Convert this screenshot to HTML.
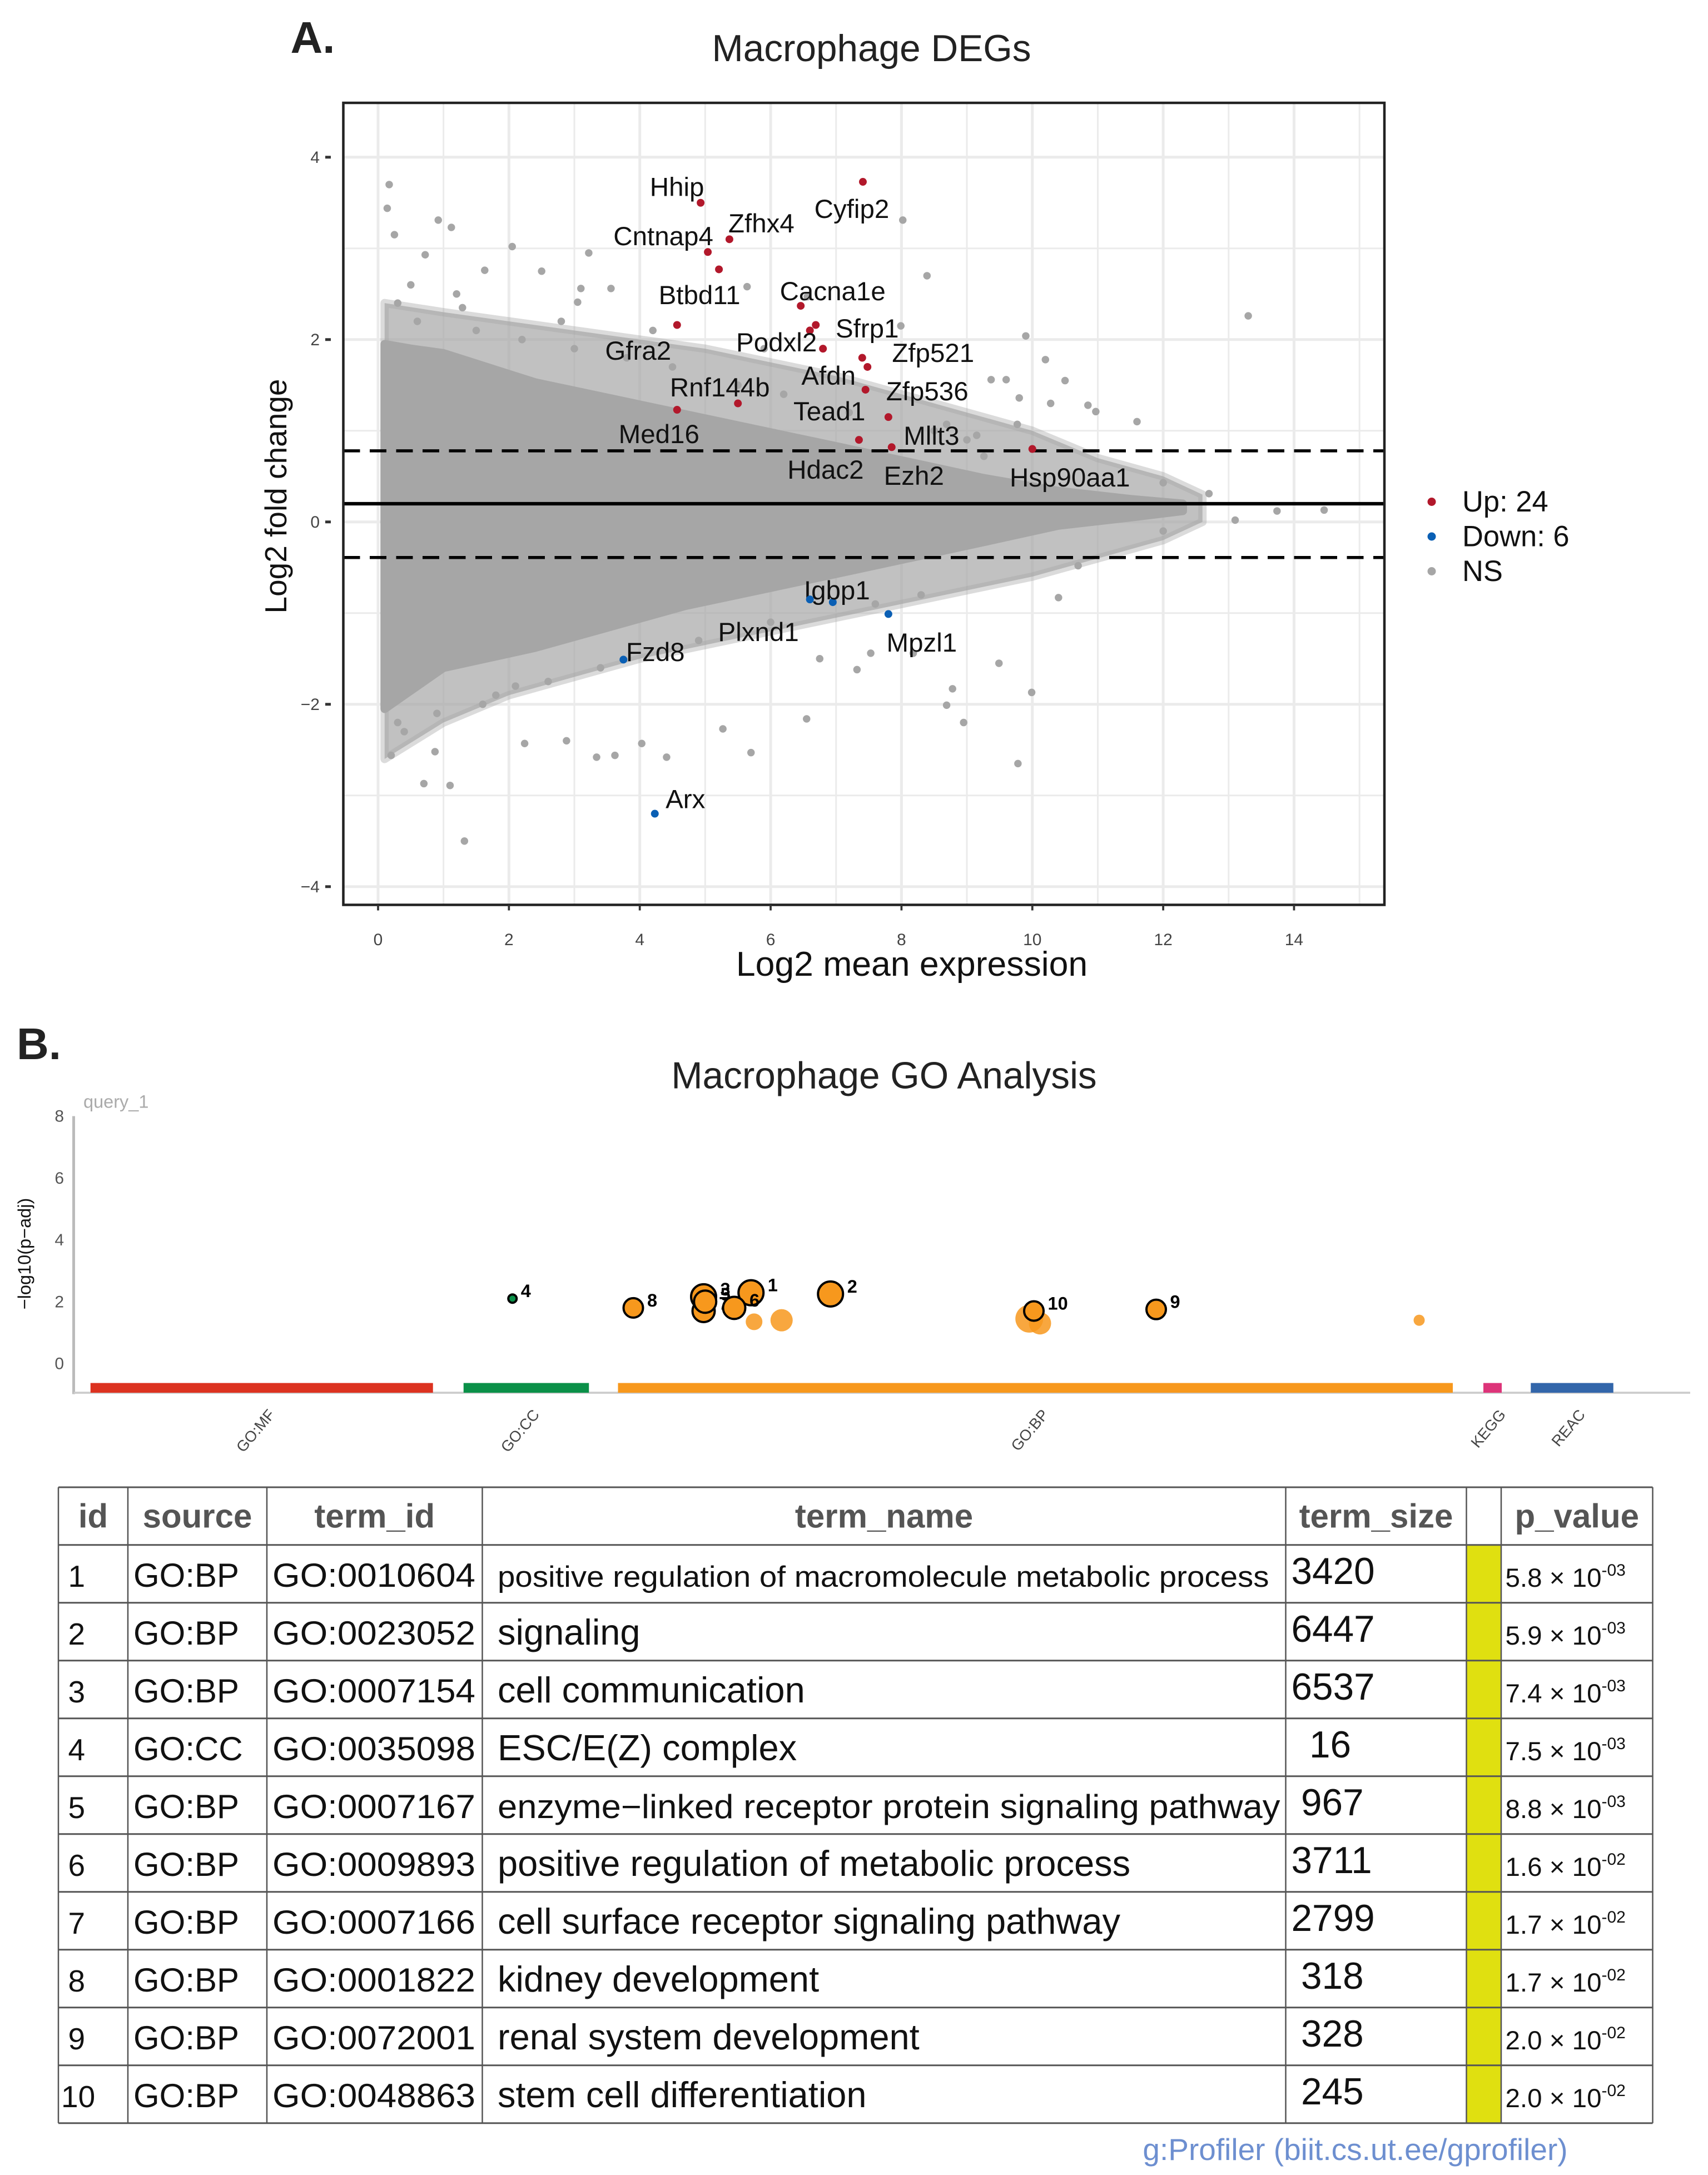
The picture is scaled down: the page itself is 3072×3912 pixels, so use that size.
<!DOCTYPE html>
<html><head><meta charset="utf-8"><style>
html,body{margin:0;padding:0;background:#fff;}
svg{display:block;font-family:"Liberation Sans",Arial,sans-serif;}
</style></head><body>
<svg id="fig" width="3072" height="3912" viewBox="0 0 1228.8 1564.8" xmlns="http://www.w3.org/2000/svg">
<rect x="0" y="0" width="1228.8" height="1564.8" fill="#fff"/>
<text x="209" y="38" font-size="32" font-weight="bold" fill="#222">A.</text>
<text x="627" y="44" font-size="27" text-anchor="middle" fill="#222">Macrophage DEGs</text>
<g id="ma"></g>
<text x="656" y="702" font-size="25" text-anchor="middle" fill="#111">Log2 mean expression</text>
<text transform="translate(206,357) rotate(-90)" font-size="22" text-anchor="middle" fill="#111">Log2 fold change</text>
<g>
<circle cx="1030" cy="361" r="3" fill="#b2182b"/>
<text x="1052" y="368" font-size="21" fill="#111">Up: 24</text>
<circle cx="1030" cy="386" r="3" fill="#0a5fb4"/>
<text x="1052" y="393" font-size="21" fill="#111">Down: 6</text>
<circle cx="1030" cy="411" r="3" fill="#a6a6a6"/>
<text x="1052" y="418" font-size="21" fill="#111">NS</text>
</g>
<text x="12" y="762" font-size="32" font-weight="bold" fill="#222">B.</text>
<text x="636" y="783" font-size="27" text-anchor="middle" fill="#222">Macrophage GO Analysis</text>
<text x="60" y="797" font-size="13" fill="#aaa">query_1</text>
<text transform="translate(22,902) rotate(-90)" font-size="13" text-anchor="middle" fill="#111">−log10(p−adj)</text>
<g id="go"></g>
<g id="tbl"></g>
<text x="975" y="1554" font-size="22" text-anchor="middle" fill="#6d8fd0">g:Profiler (biit.cs.ut.ee/gprofiler)</text>
</svg>
<script>
// ---------- MA plot data ----------
const envX = [0.1, 0.5, 1, 2.4, 4.7, 7, 9.26, 10.4, 11.5, 12.3];
const envUpper = [1.95, 1.9, 1.85, 1.53, 1.18, 0.83, 0.48, 0.34, 0.25, 0.2];
const envLower = [-2.05, -1.85, -1.6, -1.38, -0.92, -0.57, -0.22, -0.04, 0.05, 0.12];
const outX = [0.1, 1, 2, 3, 4, 5, 6, 7, 8, 9, 10, 11, 12, 12.6];
const outUpper = [2.4, 2.3, 2.2, 2.1, 2.0, 1.9, 1.75, 1.6, 1.4, 1.2, 1.0, 0.7, 0.5, 0.3];
const outLower = [-2.6, -2.2, -1.9, -1.7, -1.5, -1.35, -1.2, -1.05, -0.9, -0.75, -0.6, -0.4, -0.2, 0.0];
const nsX = [0.17,0.14,0.92,1.12,0.25,2.05,3.22,8.02,8.39,13.3,9.9,10.2,10.5,10.85,11.6,9.8,12,12.7,13.74,14.46,12,13.1,10.7,10.4,9.99,9.49,8.95,8.69,8.78,9.78,6.55,5.7,4.41,3.62,3.34,2.88,2.24,0.7,1.1,1.32,0.87,0.2,4.03,5.27,7.53,8.18,7.32,6.75,5.64,3.56,3.1,3.05,1.63,2.5,0.72,1.29,7.99,6.56,9.37,9.6,10.28,10.97,8.69,9.15,9.77,9.26,0.3,0.6,1.5,2.2,3.0,3.8,4.5,5.5,6.2,7.2,8.5,9.0,0.4,1.8,2.6,3.4,4.9,6.0,7.6,8.3,0.5,1.2,2.8,4.2,5.9,0.3,0.9,1.6,2.1];
const nsY = [3.7,3.44,3.31,3.23,3.15,3.02,2.95,3.31,2.7,2.26,2.04,1.78,1.55,1.28,1.1,1.36,0.43,0.31,0.12,0.13,-0.1,0.02,-0.48,-0.83,-1.87,-1.55,-2.2,-2.01,-1.83,-2.65,-2.16,-2.53,-2.58,-2.56,-2.58,-2.4,-2.43,-2.87,-2.89,-3.5,-2.52,-2.56,-2.43,-2.27,-1.44,-1.44,-1.62,-1.5,2.58,2.56,2.56,2.41,2.76,2.75,2.93,2.35,2.15,2.47,1.56,1.56,1.3,1.21,1.07,0.95,1.07,0.72,2.4,2.2,2.1,2.0,1.9,1.8,1.7,1.5,1.4,1.2,1.0,0.9,-2.3,-1.9,-1.75,-1.6,-1.3,-1.1,-0.9,-0.8,2.6,2.5,2.2,2.1,1.9,-2.2,-2.1,-2.0,-1.8];
const sigGenes = ["Hhip","Cyfip2","Zfhx4","Cntnap4","Btbd11","Cacna1e","Sfrp1","Gfra2","Podxl2","Afdn","Zfp521","Zfp536","Tead1","Rnf144b","Med16","Mllt3","Hdac2","Ezh2","Hsp90aa1","Igbp1","Plxnd1","Mpzl1","Fzd8","Arx"];
const sigX = [4.93,7.41,5.37,5.04,5.21,6.46,6.69,4.57,6.6,6.8,7.4,7.48,7.45,5.5,4.57,7.8,7.35,7.85,10.0,6.95,6.6,7.8,3.75,4.23];
const sigY = [3.5,3.73,3.1,2.96,2.77,2.37,2.16,2.16,2.1,1.9,1.8,1.7,1.45,1.3,1.23,1.15,0.9,0.82,0.8,-0.88,-0.85,-1.01,-1.51,-3.2];
const sigDir = ["up","up","up","up","up","up","up","up","up","up","up","up","up","up","up","up","up","up","up","down","down","down","down","down"];
const labDx = [-17,-8,23,-32,-14,23,37,-28,-24,4,51,43,-26,-13,-13,31,-24,16,27,3,-37,24,23,22];
const labDy = [-11,20,-11,-11,19,-10,3,19,9,20,-3,18,16,-11,18,14,22,21,21,-8,24,21,-5,-10];
const xTicks = [0,2,4,6,8,10,12,14];
const yTicks = [4,2,0,-2,-4];

const NS = "http://www.w3.org/2000/svg";
function mk(tag, attrs, parent){const e=document.createElementNS(NS,tag);for(const k in attrs)e.setAttribute(k,attrs[k]);parent.appendChild(e);return e;}

const P = {l:247, r:996, t:74, b:651};
const xs = v => 272 + v*47.07;
const ys = v => 375.5 - v*65.6;
const ma = document.getElementById('ma');
let bg = mk('rect',{x:P.l,y:P.t,width:P.r-P.l,height:P.b-P.t,fill:'#fff'},ma);


for(let v=0; v<=15; v++){
  let g = mk('line',{x1:xs(v),x2:xs(v),y1:P.t,y2:P.b,stroke:'#ebebeb','stroke-width':v%2?1.2:2},ma);
  
  
}
for(let v=-4; v<=4; v++){
  let g = mk('line',{x1:P.l,x2:P.r,y1:ys(v),y2:ys(v),stroke:'#ebebeb','stroke-width':v%2?1.2:2},ma);
  
  
}
function envPoly(X,U,L){let p=[];for(let i=0;i<X.length;i++)p.push(xs(X[i])+','+ys(U[i]));for(let i=X.length-1;i>=0;i--)p.push(xs(X[i])+','+ys(L[i]));return p.join(' ');}
let outer = mk('polygon',{points:envPoly(outX,outUpper,outLower),fill:'#a6a6a6','fill-opacity':0.7,stroke:'#a6a6a6','stroke-opacity':0.4,'stroke-width':6,'stroke-linejoin':'round'},ma);


let cloud = mk('polygon',{points:envPoly(envX,envUpper,envLower),fill:'#a6a6a6',stroke:'#a6a6a6','stroke-width':6,'stroke-linejoin':'round'},ma);


for(let i=0;i<nsX.length;i++){
  let c = mk('circle',{cx:xs(nsX[i]),cy:ys(nsY[i]),r:2.7,fill:'#a6a6a6'},ma);
  
  
}
let h0 = mk('line',{x1:P.l,x2:P.r,y1:ys(0.2),y2:ys(0.2),stroke:'#000','stroke-width':2.5},ma);


for(const v of [0.78,-0.39]){
  let d = mk('line',{x1:P.l,x2:P.r,y1:ys(v),y2:ys(v),stroke:'#000','stroke-width':2.2,'stroke-dasharray':'12,7'},ma);
  
  
}
for(let i=0;i<sigGenes.length;i++){
  const cx=xs(sigX[i]), cy=ys(sigY[i]);
  let c = mk('circle',{cx:cx,cy:cy,r:2.8,fill:sigDir[i]==='up'?'#b2182b':'#0a5fb4'},ma);
  
  
  let t = mk('text',{x:cx+labDx[i],y:cy+labDy[i]+6,'font-size':19,'text-anchor':'middle',fill:'#111'},ma);
  t.textContent = sigGenes[i];
  
  
}
let fr = mk('rect',{x:P.l,y:P.t,width:P.r-P.l,height:P.b-P.t,fill:'none',stroke:'#222','stroke-width':1.8},ma);


for(const v of xTicks){
  let tk = mk('line',{x1:xs(v),x2:xs(v),y1:P.b,y2:P.b+4,stroke:'#333','stroke-width':1.5},ma);
  
  
  let t = mk('text',{x:xs(v),y:680,'font-size':12,'text-anchor':'middle',fill:'#444'},ma);
  t.textContent=v;
  
  
}
for(const v of yTicks){
  let tk = mk('line',{x1:P.l-13,x2:P.l-9,y1:ys(v),y2:ys(v),stroke:'#333','stroke-width':2},ma);
  
  
  let t = mk('text',{x:P.l-17,y:ys(v)+4,'font-size':12,'text-anchor':'end',fill:'#444'},ma);
  t.textContent = v<0 ? '−'+(-v) : v;
  
  
}

// ---------- GO plot data ----------
const goSources = ["GO:MF","GO:CC","GO:BP","KEGG","REAC"];
const srcStart = [11,255,356,922,953];
const srcEnd = [235,337,902,934,1007];
const srcColor = ["#dc3220","#0a9048","#f7981d","#dd3479","#3366aa"];
const goLabel = ["4","8","3","7","5","1","6","2","","","","","","10","9"];
const goPos = [287,366,412,412,413,443,432,495,445,463,625,632,880,628,708];
const goVal = [2.1,1.8,2.16,1.7,2.0,2.29,1.8,2.25,1.35,1.4,1.45,1.3,1.4,1.7,1.75];
const goSize = [3,7,9,8,8,9,8,9,6,8,10,8,4,7,7];
const goColor = ["#0a9048","#f7981d","#f7981d","#f7981d","#f7981d","#f7981d","#f7981d","#f7981d","#f7981d","#f7981d","#f7981d","#f7981d","#f7981d","#f7981d","#f7981d"];
const goYTicks = [0,2,4,6,8];
const gx = v => 53 + v*1.1;
const gy = v => 981 - v*22.25;
const go = document.getElementById('go');
let ax = mk('line',{x1:53,x2:53,y1:803,y2:1003,stroke:'#bbb','stroke-width':2},go);


let bx = mk('line',{x1:53,x2:1216,y1:1002,y2:1002,stroke:'#ccc','stroke-width':1.5},go);


for(const v of goYTicks){
  let t = mk('text',{x:46,y:gy(v)+4,'font-size':12,'text-anchor':'end',fill:'#555'},go);
  t.textContent=v;
  
  
}
for(let i=0;i<goSources.length;i++){
  let r = mk('rect',{x:gx(srcStart[i]),y:995,width:gx(srcEnd[i])-gx(srcStart[i]),height:7,fill:srcColor[i]},go);
  
  
  const mx=(gx(srcStart[i])+gx(srcEnd[i]))/2;
  let t = mk('text',{x:0,y:0,'font-size':11,'text-anchor':'end',fill:'#444',transform:'translate('+(mx+10)+',1018) rotate(-50)'},go);
  t.textContent=goSources[i];
  
  
}
const order=[...goVal.keys()].sort((a,b)=>(goLabel[a]?1:0)-(goLabel[b]?1:0));
for(const i of order){
  const cx=gx(goPos[i]), cy=gy(goVal[i]);
  let c = mk('circle',{cx:cx,cy:cy,r:goSize[i],fill:goColor[i],'fill-opacity':goLabel[i]?1:0.85,stroke:goLabel[i]?'#000':'none','stroke-width':1.6},go);
  
  
  if(goLabel[i]){
    let t = mk('text',{x:cx+goSize[i]+3,y:cy-1,'font-size':13,'font-weight':'bold',fill:'#000'},go);
    t.textContent=goLabel[i];
    
    
  }
}

// ---------- Table ----------
const tIds=["1","2","3","4","5","6","7","8","9","10"];
const tSrc=["GO:BP","GO:BP","GO:BP","GO:CC","GO:BP","GO:BP","GO:BP","GO:BP","GO:BP","GO:BP"];
const tTerm=["GO:0010604","GO:0023052","GO:0007154","GO:0035098","GO:0007167","GO:0009893","GO:0007166","GO:0001822","GO:0072001","GO:0048863"];
const tName=["positive regulation of macromolecule metabolic process","signaling","cell communication","ESC/E(Z) complex","enzyme−linked receptor protein signaling pathway","positive regulation of metabolic process","cell surface receptor signaling pathway","kidney development","renal system development","stem cell differentiation"];
const tSize=["3420","6447","6537","16","967","3711","2799","318","328","245"];
const tPm=["5.8","5.9","7.4","7.5","8.8","1.6","1.7","1.7","2.0","2.0"];
const tPe=["-03","-03","-03","-03","-03","-02","-02","-02","-02","-02"];
const tbl=document.getElementById('tbl');
const colX=[42,92,192,347,925,1055,1080,1189];
const top0=1070, hdrH=41.5, rowH=41.6;
const bottom=top0+hdrH+rowH*10;
let yc = mk('rect',{x:1055,y:top0+hdrH,width:25,height:rowH*10,fill:'#e0e010'},tbl);


for(const x of colX){
  let l=mk('line',{x1:x,x2:x,y1:top0,y2:bottom,stroke:'#555','stroke-width':1},tbl);
  
  
}
for(let r=0;r<=11;r++){
  const y = r===0?top0:top0+hdrH+(r-1)*rowH;
  let l=mk('line',{x1:42,x2:1189,y1:y,y2:y,stroke:'#555','stroke-width':1.2},tbl);
  
  
}
const hdr=["id","source","term_id","term_name","term_size","","p_value"];
for(let c=0;c<hdr.length;c++){
  if(!hdr[c]) continue;
  let t=mk('text',{x:(colX[c]+colX[c+1])/2,y:top0+29,'font-size':24,'font-weight':'bold','text-anchor':'middle',fill:'#555'},tbl);
  t.textContent=hdr[c];
  
  
}
for(let i=0;i<10;i++){
  const base=top0+hdrH+i*rowH+30;
  let t;
  t=mk('text',{x:i===9?44:49,y:base,'font-size':22,fill:'#111'},tbl); t.textContent=tIds[i];
   
  t=mk('text',{x:96,y:base,'font-size':24,fill:'#111'},tbl); t.textContent=tSrc[i];
   
  t=mk('text',{x:196,y:base,'font-size':24,fill:'#111',textLength:146,lengthAdjust:'spacingAndGlyphs'},tbl); t.textContent=tTerm[i];
   
  const nattr={x:358,y:base,'font-size':i===0?21:26,fill:'#111'};
  if(i===0){nattr.textLength=555;nattr.lengthAdjust='spacingAndGlyphs';}
  if(i===4){nattr.textLength=563;nattr.lengthAdjust='spacingAndGlyphs';nattr['font-size']=24;}
  t=mk('text',nattr,tbl); t.textContent=tName[i];
   
  const sx = tSize[i].length===4?929:(tSize[i].length===3?936:942);
  t=mk('text',{x:sx,y:base-2,'font-size':27,fill:'#111'},tbl); t.textContent=tSize[i];
   
  t=mk('text',{x:1083,y:base,'font-size':19,fill:'#111'},tbl);
   
  t.textContent=tPm[i]+' × 10';
  let sp=document.createElementNS(NS,'tspan'); sp.setAttribute('dy','-8'); sp.setAttribute('font-size','12'); sp.textContent=tPe[i]; t.appendChild(sp);
}
</script>
</body></html>
